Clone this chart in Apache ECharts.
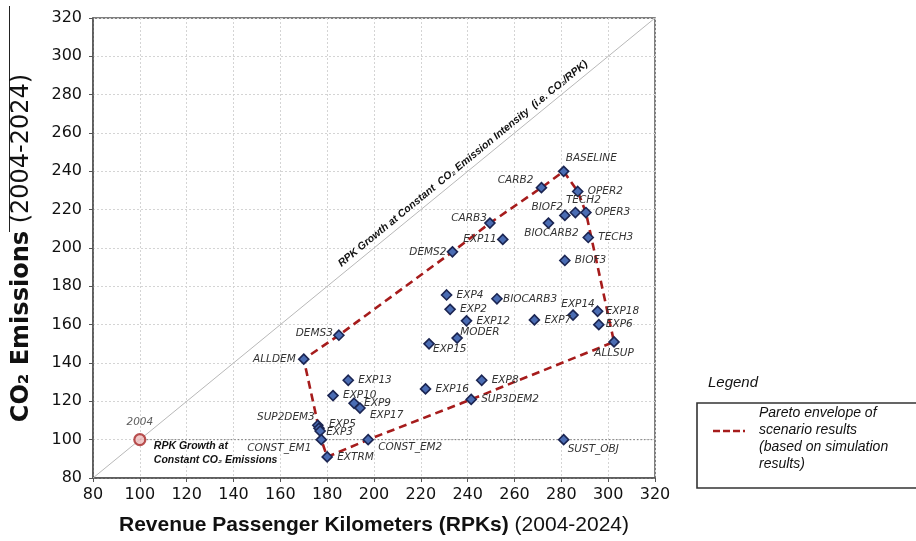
<!DOCTYPE html>
<html><head><meta charset="utf-8">
<script src="https://cdn.jsdelivr.net/npm/echarts@6/dist/echarts.min.js"></script>
<style>html,body{margin:0;padding:0;background:#fff}#c{width:916px;height:541px}</style>
</head><body><div id="c"></div>
<script>
// ---- data ----
const scenarioNames = ['BASELINE','CARB2','OPER2','TECH2','BIOF2','OPER3','BIOCARB2','CARB3','EXP11','TECH3','BIOF3','DEMS2','DEMS3','ALLDEM','EXP4','EXP2','EXP12','MODER','EXP15','EXP13','BIOCARB3','EXP7','EXP14','EXP18','EXP6','ALLSUP','EXP8','EXP16','SUP3DEM2','SUST_OBJ','EXP10','EXP9','EXP17','SUP2DEM3','EXP5','EXP3','CONST_EM1','EXTRM','CONST_EM2'];
const scenarioRPK = [281,271.5,287,286,281.5,290.5,274.5,249.5,255,291.5,281.5,233.5,185,170,231,232.5,239.5,235.5,223.5,189,252.5,268.5,285,295.5,296,302.5,246,222,241.5,281,182.5,191.5,194,176,176.5,177,177.5,180,197.5];
const scenarioCO2 = [240,231.5,229.5,218.5,217,218.5,213,213,204.5,205.5,193.5,198,154.5,142,175.5,168,162,153,150,131,173.5,162.5,165,167,160,151,131,126.5,121,100,123,119,116.5,107.5,106,104.5,100,91,100];
const baseName = ['2004'];
const baseRPK = [100];
const baseCO2 = [100];
const envelopeOrder = ['BASELINE','OPER2','OPER3','ALLSUP','SUP3DEM2','CONST_EM2','EXTRM','CONST_EM1','ALLDEM','DEMS3','DEMS2','CARB3','CARB2','BASELINE'];
const axisMin = 80, axisMax = 320, axisStep = 20;

// ---- label placement (style only) ----
const labelLayout = {
  BASELINE:['left',2,-13], CARB2:['right',-8,-7], OPER2:['left',10,0], TECH2:['center',8,-12],
  BIOF2:['right',-2,-8], OPER3:['left',9,0], BIOCARB2:['center',3,10], CARB3:['right',-3,-5],
  EXP11:['right',-6,0], TECH3:['left',10,0], BIOF3:['left',10,0], DEMS2:['right',-6,0],
  DEMS3:['right',-6,-2], ALLDEM:['right',-8,0], EXP4:['left',10,0], EXP2:['left',10,0],
  EXP12:['left',10,0], MODER:['left',3,-6], EXP15:['left',4,5], EXP13:['left',10,0],
  BIOCARB3:['left',6,0], EXP7:['left',10,0], EXP14:['center',5,-11], EXP18:['left',8,0],
  EXP6:['left',7,0], ALLSUP:['center',0,11], EXP8:['left',10,0], EXP16:['left',10,0],
  SUP3DEM2:['left',10,0], SUST_OBJ:['left',4,10], EXP10:['left',10,0], EXP9:['left',10,0],
  EXP17:['left',10,7], SUP2DEM3:['right',-3,-8], EXP5:['left',10,-4], EXP3:['left',6,1],
  CONST_EM1:['right',-10,9], EXTRM:['left',10,0], CONST_EM2:['left',10,8]
};

const labelFont = {fontStyle:'italic', fontFamily:'DejaVu Sans', fontSize:10.5, color:'#333', textBorderWidth:0};

const scatterData = scenarioNames.map((n,i)=>{
  const l = labelLayout[n] || ['left',10,0];
  return {name:n, value:[scenarioRPK[i], scenarioCO2[i]],
    label:Object.assign({show:true, formatter:'{b}', position:'inside', align:l[0], verticalAlign:'middle', offset:[l[1],l[2]]}, labelFont)};
});
const idx = n => scenarioNames.indexOf(n);
const envelopeData = envelopeOrder.map(n=>[scenarioRPK[idx(n)], scenarioCO2[idx(n)]]);

const chart = echarts.init(document.getElementById('c'), null, {renderer:'canvas'});
const gridStyle = {show:true, lineStyle:{color:'#d4d4d4', width:1, type:[2,2]}};
const axisCommon = {
  type:'value', min:axisMin, max:axisMax, interval:axisStep,
  axisLine:{show:true, lineStyle:{color:'#555', width:1.5}},
  axisTick:{show:true, inside:false, length:4, lineStyle:{color:'#555'}},
  splitLine:gridStyle,
  axisLabel:{fontFamily:'DejaVu Sans', fontSize:16, color:'#111'}
};
chart.setOption({
  animation:false,
  backgroundColor:'#fff',
  grid:{left:93, right:261, top:18, bottom:63, containLabel:false, outerBoundsMode:'none', show:true, borderColor:'#555', borderWidth:1.5, backgroundColor:'transparent'},
  xAxis:Object.assign({}, axisCommon, {
    axisLabel:Object.assign({}, axisCommon.axisLabel, {margin:9}),
    name:'{b|Revenue Passenger Kilometers (RPKs)}{r| (2004-2024)}', nameLocation:'middle', nameGap:37,
    nameTextStyle:{rich:{b:{fontFamily:'Liberation Sans', fontWeight:'bold', fontSize:21, color:'#111'}, r:{fontFamily:'Liberation Sans', fontSize:21, color:'#111'}}}
  }),
  yAxis:Object.assign({}, axisCommon, {
    axisLabel:Object.assign({}, axisCommon.axisLabel, {margin:11}),
    name:'{b|CO₂ Emissions}{r| (2004-2024)}', nameLocation:'middle', nameGap:59, nameRotate:90,
    nameTextStyle:{rich:{b:{fontFamily:'DejaVu Sans', fontWeight:'bold', fontSize:24, color:'#111'}, r:{fontFamily:'DejaVu Sans', fontSize:24, color:'#111'}}}
  }),
  series:[
    {type:'line', name:'diag', data:[[axisMin,axisMin],[axisMax,axisMax]], symbol:'none', silent:true, z:1,
     lineStyle:{color:'#b8b8b8', width:1}},
    {type:'line', name:'constEm', data:[[baseRPK[0],baseCO2[0]],[axisMax,baseCO2[0]]], symbol:'none', silent:true, z:1,
     lineStyle:{color:'#777', width:1, type:[1.5,2]}},
    {type:'line', name:'Pareto envelope', data:envelopeData, symbol:'none', z:2,
     lineStyle:{color:'#a61c1c', width:2.6, type:[8,5]}},
    {type:'scatter', name:'scenarios', data:scatterData, symbol:'diamond', symbolSize:10, z:5,
     itemStyle:{color:'#4a6cb3', borderColor:'#1b2552', borderWidth:1.6, opacity:1}},
    {type:'scatter', name:'base', data:baseName.map((n,i)=>({name:n, value:[baseRPK[i], baseCO2[i]]})), symbol:'circle', symbolSize:11, z:5,
     itemStyle:{color:'#eebcbc', borderColor:'#a82828', borderWidth:2.2},
     label:Object.assign({show:true, formatter:'{b}', position:'inside', align:'center', verticalAlign:'middle', offset:[0,-17]}, labelFont)}
  ]
});

// annotations anchored to data positions
const p0 = chart.convertToPixel({gridIndex:0}, [axisMin, axisMin]);
const p1 = chart.convertToPixel({gridIndex:0}, [axisMax, axisMax]);
const ang = Math.atan2(p0[1]-p1[1], p1[0]-p0[0]);
const diagC = chart.convertToPixel({gridIndex:0}, [238, 244]);
const baseP = chart.convertToPixel({gridIndex:0}, [baseRPK[0], baseCO2[0]]);
chart.setOption({
  graphic:[
    {type:'text', x:diagC[0], y:diagC[1], rotation:ang, z:10,
     style:{text:'RPK Growth at Constant  CO₂ Emission Intensity  (i.e. CO₂/RPK)', align:'center', verticalAlign:'middle',
       fontFamily:'Liberation Sans', fontWeight:'bold', fontStyle:'italic', fontSize:10.5, fill:'#111'}},
    {type:'text', x:baseP[0]+14, y:baseP[1]-1, z:10,
     style:{text:'RPK Growth at\nConstant CO₂ Emissions', align:'left', verticalAlign:'top', lineHeight:14,
       fontFamily:'Liberation Sans', fontWeight:'bold', fontStyle:'italic', fontSize:10.5, fill:'#111'}},
    {type:'line', shape:{x1:9.5, y1:6, x2:9.5, y2:232}, style:{stroke:'#222', lineWidth:1}},
    {type:'text', x:708, y:383, style:{text:'Legend', align:'left', verticalAlign:'middle', fontFamily:'Liberation Sans', fontStyle:'italic', fontSize:15, fill:'#111'}},
    {type:'rect', shape:{x:697, y:403, width:240, height:85}, style:{fill:'#fff', stroke:'#333', lineWidth:1.6}},
    {type:'line', shape:{x1:713, y1:431, x2:745, y2:431}, style:{stroke:'#a61c1c', lineWidth:2.6, lineDash:[7,3]}},
    {type:'text', x:759, y:404.5, style:{text:'Pareto envelope of\nscenario results\n(based on simulation\nresults)', align:'left', verticalAlign:'top', lineHeight:17,
       fontFamily:'Liberation Sans', fontStyle:'italic', fontSize:14, fill:'#111'}}
  ]
});
</script>
</body></html>
